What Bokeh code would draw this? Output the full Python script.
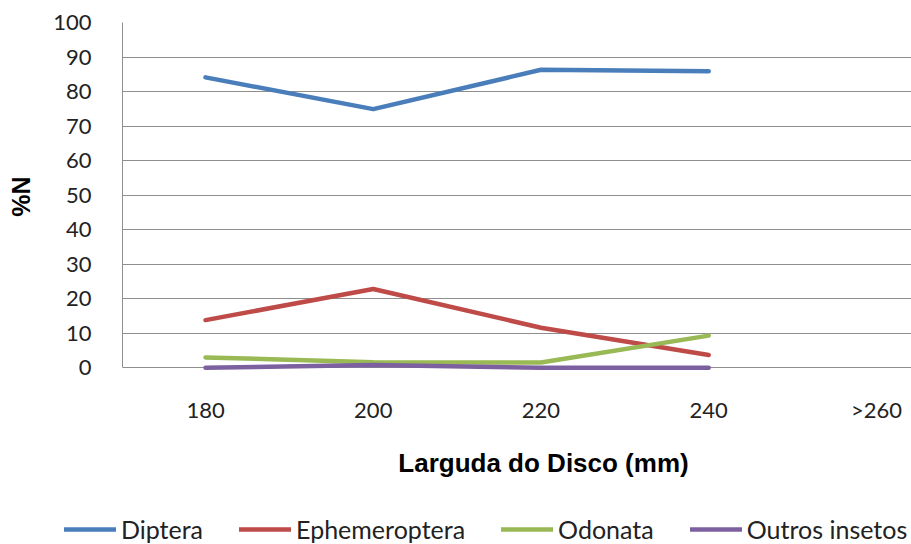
from bokeh.plotting import figure
from bokeh.layouts import column, row
from bokeh.models import Range1d, FixedTicker, Legend, LegendItem, Label
from bokeh.embed import file_html
from bokeh.resources import INLINE

# Disc width classes (x axis) and percentage by number (%N) per prey group
categorias = ["180", "200", "220", "240", ">260"]
diptera = [84.1, 74.9, 86.3, 85.9]
ephemeroptera = [13.8, 22.8, 11.6, 3.7]
odonata = [3.0, 1.6, 1.5, 9.3]
outros_insetos = [0.0, 0.8, 0.0, 0.0]
titulo_x = "Larguda do Disco (mm)"
titulo_y = "%N"

series = [
    ("Diptera", diptera, "#4a7ebb"),
    ("Ephemeroptera", ephemeroptera, "#be4b48"),
    ("Odonata", odonata, "#98b954"),
    ("Outros insetos", outros_insetos, "#7d60a0"),
]

idx = list(range(len(categorias)))
grid_color = "#8e8e8e"
font = "Lato"
title_font = "Liberation Sans"
W, H = 911, 544
H_TOP = 430

# ---- main chart: axes, grid and the four lines ----
# y range dips slightly below 0 so the line lying on zero is not clipped
p = figure(width=W, height=H_TOP, output_backend="svg", toolbar_location=None,
           x_range=Range1d(-0.495, 4.209), y_range=Range1d(-0.8, 100),
           min_border_left=122, min_border_right=0, min_border_top=22,
           min_border_bottom=60)
p.outline_line_color = None
p.background_fill_color = "white"
p.border_fill_color = "white"

p.xaxis.ticker = FixedTicker(ticks=idx)
p.xaxis.major_label_overrides = {i: c for i, c in zip(idx, categorias)}
p.xaxis.axis_line_color = None
p.xaxis.major_tick_line_color = None
p.xaxis.minor_tick_line_color = None
p.xaxis.major_label_standoff = 19
p.xaxis.major_label_text_font = font
p.xaxis.major_label_text_font_size = "22px"
p.xaxis.major_label_text_color = "#222222"
p.xgrid.grid_line_color = None

p.yaxis.ticker = FixedTicker(ticks=list(range(0, 101, 10)))
p.yaxis.bounds = (0, 100)
p.yaxis.axis_line_color = grid_color
p.yaxis.axis_line_width = 1
p.yaxis.major_tick_line_color = None
p.yaxis.minor_tick_line_color = None
p.yaxis.major_label_standoff = 25
p.yaxis.major_label_text_font = font
p.yaxis.major_label_text_font_size = "22px"
p.yaxis.major_label_text_color = "#222222"
p.yaxis.axis_label = titulo_y
p.yaxis.axis_label_text_font = title_font
p.yaxis.axis_label_text_font_style = "bold"
p.yaxis.axis_label_text_font_size = "25px"
p.yaxis.axis_label_text_color = "#000000"
p.yaxis.axis_label_standoff = 15
p.ygrid.grid_line_color = grid_color
p.ygrid.grid_line_width = 1

for nome, vals, cor in series:
    p.line(idx[:len(vals)], vals, line_color=cor, line_width=4.5,
           line_join="round", line_cap="round")

# ---- footer: x axis title and the horizontal legend ----
foot = figure(width=W, height=H - H_TOP, output_backend="svg",
              toolbar_location=None, x_axis_type=None, y_axis_type=None,
              x_range=Range1d(0, W), y_range=Range1d(0, H - H_TOP),
              min_border=0)
foot.outline_line_color = None
foot.grid.grid_line_color = None
foot.border_fill_color = "white"

foot.add_layout(Label(x=543, y=82, text=titulo_x, text_font=title_font,
                      text_font_style="bold", text_font_size="26px",
                      text_align="center", text_baseline="middle",
                      text_color="#000000"))

# legend swatches only: each key line holds a single NaN point
items = []
for nome, vals, cor in series:
    r = foot.line(x=[float("nan")], y=[float("nan")], line_color=cor,
                  line_width=4.5, line_cap="round")
    items.append(LegendItem(label=nome, renderers=[r]))

legend = Legend(items=items, orientation="horizontal", location=(64, 0),
                border_line_color=None, background_fill_alpha=0,
                label_text_font=font, label_text_font_size="25px",
                label_text_color="#222222",
                glyph_width=52, glyph_height=28, label_standoff=5,
                spacing=36, padding=0, margin=0)
foot.add_layout(legend, "center")

layout = column(p, row(foot), spacing=0)
open("out.html", "w").write(file_html(layout, INLINE))
